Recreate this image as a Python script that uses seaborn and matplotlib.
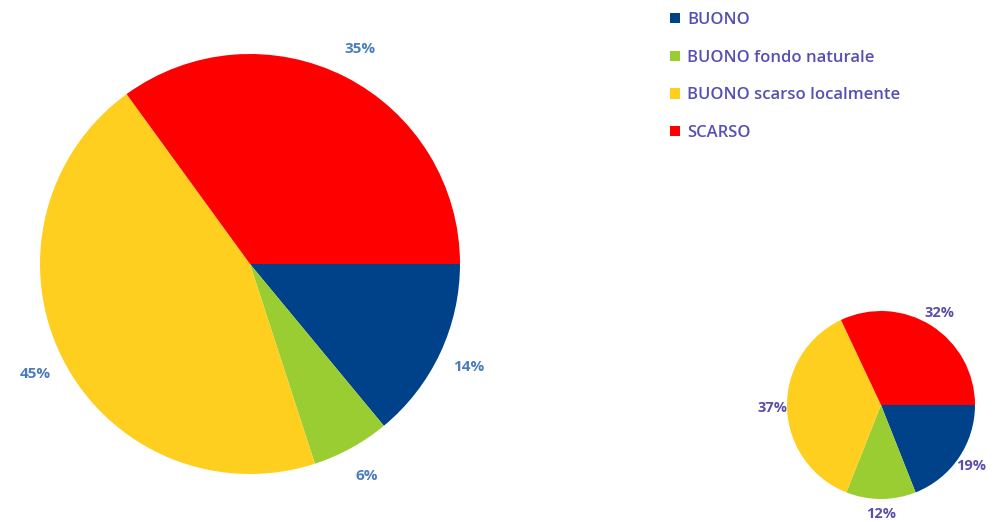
import matplotlib
matplotlib.use("Agg")
import matplotlib.pyplot as plt
from matplotlib.patches import Patch
import seaborn as sns

categories = ["BUONO", "BUONO fondo naturale", "BUONO scarso localmente", "SCARSO"]
values_large = [14, 6, 45, 35]
values_small = [19, 12, 37, 32]
colors = ["#00428a", "#9acd32", "#ffcf1f", "#ff0000"]

sns.set_theme(style="white")
plt.rcParams["font.family"] = ["Open Sans", "DejaVu Sans"]

W, H = 1004, 522
fig = plt.figure(figsize=(W / 100, H / 100), dpi=100)
fig.patch.set_facecolor("white")


def pie_axes(cx, cy, r):
    return fig.add_axes([(cx - r) / W, (H - cy - r) / H, 2 * r / W, 2 * r / H])


def draw_pie(ax, vals, labeldist, txtcolor, fs):
    wedges, texts = ax.pie(
        vals,
        labels=[f"{v}%" for v in vals],
        colors=sns.color_palette(colors),
        startangle=0,
        counterclock=False,
        labeldistance=labeldist,
        wedgeprops=dict(linewidth=0),
        textprops=dict(color=txtcolor, fontsize=fs, fontweight="bold"),
    )
    for t in texts:
        t.set_horizontalalignment("center")
        t.set_verticalalignment("center")
    ax.set_xlim(-1, 1)
    ax.set_ylim(-1, 1)
    ax.set_aspect("equal")
    ax.axis("off")
    return wedges


ax1 = pie_axes(250, 264, 210)
draw_pie(ax1, values_large, 1.15, "#4a7dbd", 11)

ax2 = pie_axes(881, 405, 94)
draw_pie(ax2, values_small, 1.155, "#5a4fa8", 10.5)

handles = [Patch(facecolor=c, edgecolor="none") for c in colors]
fig.legend(
    handles,
    categories,
    loc="upper left",
    bbox_to_anchor=(655 / W, 1 + 3 / H),
    frameon=False,
    handlelength=0.6,
    handleheight=0.6,
    handletextpad=0.45,
    labelspacing=1.3,
    prop=dict(family=["Open Sans", "DejaVu Sans"], size=12, weight="semibold"),
    labelcolor="#5650b4",
)

fig.savefig("out.png", dpi=100, facecolor="white")
